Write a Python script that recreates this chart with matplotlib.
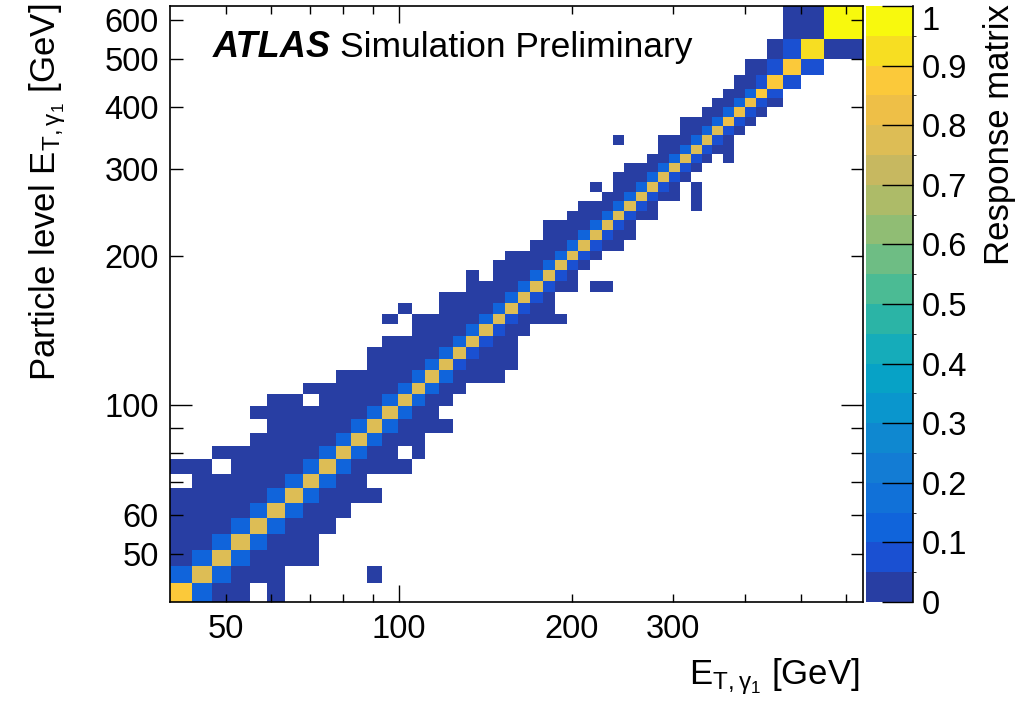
import numpy as np
import matplotlib
matplotlib.use("Agg")
import matplotlib.pyplot as plt
from matplotlib.colors import ListedColormap, BoundaryNorm
from matplotlib.ticker import FixedLocator, FixedFormatter, FuncFormatter

plt.rcParams['font.family'] = ['Liberation Sans', 'DejaVu Sans']
plt.rcParams['mathtext.fontset'] = 'custom'
plt.rcParams['mathtext.rm'] = 'Liberation Sans'
plt.rcParams['mathtext.it'] = 'Liberation Sans:italic'

# bin edges in GeV, same binning on both axes
bin_edges = [40, 43.6, 47.3, 51, 55, 59, 63.5, 68, 72.7, 77.7, 82.7, 88, 93.5,
             99.5, 105.3, 111, 117.6, 124, 131, 138, 145.6, 153, 161, 169, 178,
             187, 196, 205, 215, 225.5, 236, 246.6, 258, 270, 282, 295, 308, 322,
             336, 351, 366, 382, 400, 418, 436, 465, 500, 548, 640]

# one row per particle level bin (bottom to top): first filled reco bin and
# the cells from there on. each cell is a colour level 0..19 written in base 20
# ('0' = 0-0.05, '2' = 0.10-0.15, 'f' = 0.75-0.80, 'j' = 0.95-1), '.' = empty
row_start = [0, 0, 0, 0, 0, 0, 0, 1, 0, 2,
             4, 5, 4, 5, 7, 9, 11, 11, 12, 14,
             12, 13, 16, 18, 18, 20, 21, 23, 24, 24,
             26, 27, 29, 28, 30, 31, 33, 34, 30, 36,
             36, 38, 39, 40, 41, 42, 44, 45]
row_cells = ["h200.0", "2f2000.....0", "02f20000", "002f2000", "0002f2000",
             "00002f2000", "000002f20000", "000002f200", "00.00002f20000", "0000002f200.0",
             "000002f2000", "000002f20000", "00000002f200", "00.00002f200", "0000002f200",
             "000002f20000", "00002f10000", "000002f1000", "000002f100", "00002f100",
             "0.000002f10000", "0..00002f100", "000002f10", "00002f100.00", "0.0002f10",
             "00002f10", "00002f10", "0002f100", "0002f100", "00002f10",
             "0002f100", "0002f10...0", "002f100.0", "0.002f10.0", "0002f10",
             "0002f10", "002f10.0", "002f100", "0...0002f10", "002f10",
             "0002g10", "002g10", "002g10", "002h1", "001h1",
             "001h1", "01i0", "00j"]

x_labelled = [50, 100, 200, 300]
x_unlabelled = [60, 70, 80, 90, 400, 500, 600]
y_labelled = [50, 60, 100, 200, 300, 400, 500, 600]
y_unlabelled = [70, 80, 90]

palette = ['#283ea3', '#1a50d2', '#1064db', '#1171d8', '#137cd4', '#0f88d0',
           '#0a96cd', '#07a2c6', '#15acba', '#2bb4a6', '#4bbb94', '#6ebd84',
           '#90bd74', '#adbb68', '#c7b860', '#ddbd55', '#eebf47', '#fbc93a',
           '#f7de22', '#f8f90d']

nb = len(bin_edges) - 1
resp = np.full((nb, nb), np.nan)
for r in range(nb):
    for j, ch in enumerate(row_cells[r]):
        if ch != '.':
            resp[r, row_start[r] + j] = (int(ch, 20) + 0.5) / 20.0

W, H = 1019, 710
fig = plt.figure(figsize=(W / 100, H / 100), dpi=100)
ax = fig.add_axes([170 / W, 1 - 602 / H, 692.5 / W, 596 / H])

cmap = ListedColormap(palette)
norm = BoundaryNorm(np.linspace(0, 1, 21), 20)
mesh = ax.pcolormesh(bin_edges, bin_edges, np.ma.masked_invalid(resp),
                     cmap=cmap, norm=norm, linewidth=0, antialiased=False)

ax.set_xscale('log')
ax.set_yscale('log')
ax.set_xlim(bin_edges[0], bin_edges[-1])
ax.set_ylim(bin_edges[0], bin_edges[-1])

def lab(values):
    return FuncFormatter(lambda v, p: '%g' % v if any(abs(v - t) < 1e-6 for t in values) else '')

for axis, labelled, other in [(ax.xaxis, x_labelled, x_unlabelled),
                              (ax.yaxis, y_labelled, y_unlabelled)]:
    axis.set_major_locator(FixedLocator([100]))
    axis.set_major_formatter(FixedFormatter(['100']))
    axis.set_minor_locator(FixedLocator(sorted([v for v in labelled + other if v != 100])))
    axis.set_minor_formatter(lab(labelled))

ax.tick_params(which='both', direction='in', top=True, right=True, labelsize=23.5, width=1)
ax.tick_params(axis='x', which='major', length=12, pad=9)
ax.tick_params(axis='x', which='minor', length=6, pad=9)
ax.tick_params(axis='y', which='major', length=16, pad=8)
ax.tick_params(axis='y', which='minor', length=9, pad=8)
for s in ax.spines.values():
    s.set_linewidth(1.2)

cax = fig.add_axes([866 / W, 1 - 602 / H, 47 / W, 596 / H])
cb = fig.colorbar(mesh, cax=cax, ticks=np.round(np.arange(0, 1.01, 0.1), 1))
cb.outline.set_visible(False)
cax.plot([1, 1], [0, 1], transform=cax.transAxes, color='k', lw=1.2, clip_on=False)
cax.tick_params(direction='in', length=22, width=1, labelsize=23.5, pad=6)
cb.set_ticklabels(['0', '0.1', '0.2', '0.3', '0.4', '0.5', '0.6', '0.7', '0.8', '0.9', '1'])
cax.get_yticklabels()[-1].set_verticalalignment('top')

et = r'E$_{\mathrm{T},\mathrm{\gamma}_{1}}$ [GeV]'
fig.text(1000 / W, 1 - 4 / H, 'Response matrix', rotation=90, ha='center', va='top', fontsize=25)
fig.text(48 / W, 1 - 4 / H, 'Particle level ' + et,
         rotation=90, ha='center', va='top', fontsize=25)
fig.text(860 / W, 1 - 684 / H, et, ha='right', va='baseline', fontsize=25)

fig.text(213 / W, 1 - 57 / H, 'ATLAS', fontsize=26, fontweight='bold', style='italic',
         va='baseline')
fig.text(340 / W, 1 - 57 / H, 'Simulation Preliminary', fontsize=25.5, va='baseline')

fig.savefig('out.png', dpi=100)
